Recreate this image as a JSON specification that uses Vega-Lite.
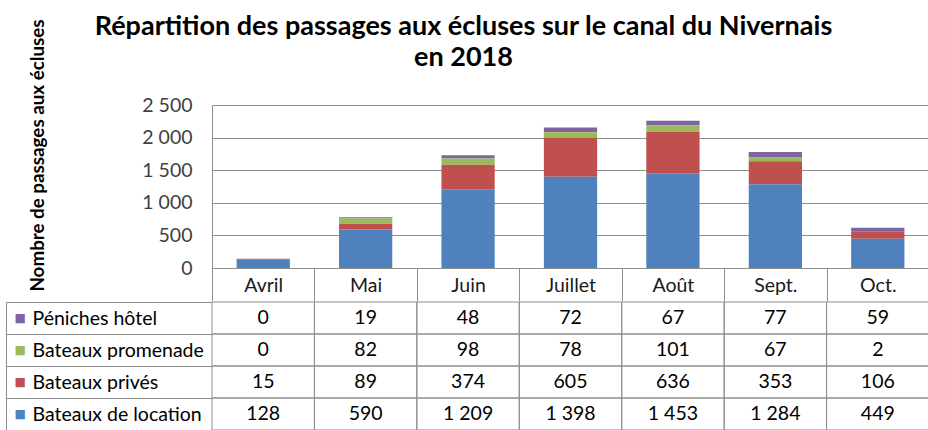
{
  "$schema": "https://vega.github.io/schema/vega-lite/v6.json",
  "padding": {"left": 5, "top": 12, "right": 0, "bottom": 0},
  "background": "white",
  "config": {
    "locale": {"number": {"decimal": ",", "thousands": " ", "grouping": [3], "currency": ["", " €"]}},
    "view": {"stroke": null},
    "font": "Lato"
  },
  "data": {"values": [
    {"month": "Avril", "series": "Péniches hôtel", "value": 0},
    {"month": "Avril", "series": "Bateaux promenade", "value": 0},
    {"month": "Avril", "series": "Bateaux privés", "value": 15},
    {"month": "Avril", "series": "Bateaux de location", "value": 128},
    {"month": "Mai", "series": "Péniches hôtel", "value": 19},
    {"month": "Mai", "series": "Bateaux promenade", "value": 82},
    {"month": "Mai", "series": "Bateaux privés", "value": 89},
    {"month": "Mai", "series": "Bateaux de location", "value": 590},
    {"month": "Juin", "series": "Péniches hôtel", "value": 48},
    {"month": "Juin", "series": "Bateaux promenade", "value": 98},
    {"month": "Juin", "series": "Bateaux privés", "value": 374},
    {"month": "Juin", "series": "Bateaux de location", "value": 1209},
    {"month": "Juillet", "series": "Péniches hôtel", "value": 72},
    {"month": "Juillet", "series": "Bateaux promenade", "value": 78},
    {"month": "Juillet", "series": "Bateaux privés", "value": 605},
    {"month": "Juillet", "series": "Bateaux de location", "value": 1398},
    {"month": "Août", "series": "Péniches hôtel", "value": 67},
    {"month": "Août", "series": "Bateaux promenade", "value": 101},
    {"month": "Août", "series": "Bateaux privés", "value": 636},
    {"month": "Août", "series": "Bateaux de location", "value": 1453},
    {"month": "Sept.", "series": "Péniches hôtel", "value": 77},
    {"month": "Sept.", "series": "Bateaux promenade", "value": 67},
    {"month": "Sept.", "series": "Bateaux privés", "value": 353},
    {"month": "Sept.", "series": "Bateaux de location", "value": 1284},
    {"month": "Oct.", "series": "Péniches hôtel", "value": 59},
    {"month": "Oct.", "series": "Bateaux promenade", "value": 2},
    {"month": "Oct.", "series": "Bateaux privés", "value": 106},
    {"month": "Oct.", "series": "Bateaux de location", "value": 449}
  ]},
  "spacing": -10,
  "vconcat": [
    {
      "width": 717,
      "height": 163,
      "title": {
        "text": ["Répartition des passages aux écluses sur le canal du Nivernais", "en 2018"],
        "frame": "group",
        "anchor": "middle",
        "dx": -107,
        "offset": -53,
        "font": "Lato",
        "fontSize": 27,
        "fontWeight": "bold",
        "color": "#000000",
        "lineHeight": 31
      },
      "mark": {"type": "bar", "width": {"band": 0.52}},
      "encoding": {
        "x": {
          "field": "month", "type": "nominal",
          "sort": ["Avril", "Mai", "Juin", "Juillet", "Août", "Sept.", "Oct."],
          "scale": {"paddingInner": 0, "paddingOuter": 0},
          "axis": {
            "orient": "bottom", "title": null,
            "domainColor": "#8E8E8E",
            "tickBand": "extent", "tickSize": 33, "tickColor": "#8E8E8E",
            "labelAngle": 0, "labelPadding": -16, "labelBaseline": "middle",
            "labelFont": "Lato", "labelFontSize": 19.5, "labelColor": "#1a1a1a"
          }
        },
        "y": {
          "field": "value", "type": "quantitative", "stack": "zero",
          "scale": {"domain": [0, 2500]},
          "axis": {
            "values": [0, 500, 1000, 1500, 2000, 2500],
            "format": ",d",
            "grid": true, "gridColor": "#8E8E8E",
            "domainColor": "#8E8E8E",
            "ticks": false,
            "labelPadding": 20, "labelFont": "Lato", "labelFontSize": 19.5, "labelColor": "#404040",
            "title": "Nombre de passages aux écluses",
            "titleFont": "Lato", "titleFontSize": 18.8, "titleFontWeight": "bold", "titleColor": "#000000",
            "titleX": -175, "titleY": 50, "titleAlign": "center", "titleBaseline": "middle", "titleAngle": -90
          }
        },
        "color": {
          "field": "series", "type": "nominal",
          "scale": {
            "domain": ["Bateaux de location", "Bateaux privés", "Bateaux promenade", "Péniches hôtel"],
            "range": ["#4F81BD", "#C0504D", "#9BBB59", "#8064A2"]
          },
          "legend": null
        },
        "order": {"field": "series", "type": "nominal", "sort": "ascending"}
      }
    },
    {
      "width": 717,
      "height": 128,
      "layer": [
        {
          "mark": {"type": "rect", "filled": false, "color": "#8E8E8E", "strokeWidth": 1},
          "encoding": {
            "x": {
              "field": "month", "type": "nominal",
              "sort": ["Avril", "Mai", "Juin", "Juillet", "Août", "Sept.", "Oct."],
              "scale": {"paddingInner": 0, "paddingOuter": 0},
              "axis": null
            },
            "y": {
              "field": "series", "type": "nominal",
              "sort": ["Péniches hôtel", "Bateaux promenade", "Bateaux privés", "Bateaux de location"],
              "scale": {"paddingInner": 0, "paddingOuter": 0},
              "axis": {
                "orient": "left", "title": null, "domain": false,
                "ticks": true, "tickBand": "extent", "tickSize": 206, "tickColor": "#8E8E8E",
                "grid": false,
                "labelAlign": "left", "labelPadding": -26,
                "labelFont": "Lato", "labelFontSize": 19.5, "labelColor": "#000000", "labelLimit": 300
              }
            }
          }
        },
        {
          "mark": {"type": "text", "font": "Lato", "fontSize": 19.5, "color": "#000000"},
          "encoding": {
            "x": {
              "field": "month", "type": "nominal",
              "sort": ["Avril", "Mai", "Juin", "Juillet", "Août", "Sept.", "Oct."],
              "axis": null
            },
            "y": {
              "field": "series", "type": "nominal",
              "sort": ["Péniches hôtel", "Bateaux promenade", "Bateaux privés", "Bateaux de location"],
              "axis": null
            },
            "text": {"field": "value", "type": "quantitative", "format": ",d"}
          }
        },
        {
          "mark": {"type": "text", "opacity": 0},
          "encoding": {
            "y": {
              "field": "series", "type": "nominal",
              "sort": ["Péniches hôtel", "Bateaux promenade", "Bateaux privés", "Bateaux de location"],
              "axis": {
                "orient": "left", "offset": 206, "title": null,
                "domain": true, "domainColor": "#8E8E8E",
                "ticks": false, "grid": false,
                "labelExpr": "'■'",
                "labelAlign": "left", "labelPadding": -8,
                "labelFont": "DejaVu Sans", "labelFontSize": 12,
                "labelColor": {
                  "condition": [
                    {"test": "datum.value === 'Péniches hôtel'", "value": "#8064A2"},
                    {"test": "datum.value === 'Bateaux promenade'", "value": "#9BBB59"},
                    {"test": "datum.value === 'Bateaux privés'", "value": "#C0504D"}
                  ],
                  "value": "#4F81BD"
                }
              }
            },
            "text": {"value": "x"}
          }
        }
      ],
      "resolve": {"axis": {"y": "independent"}}
    }
  ]
}
